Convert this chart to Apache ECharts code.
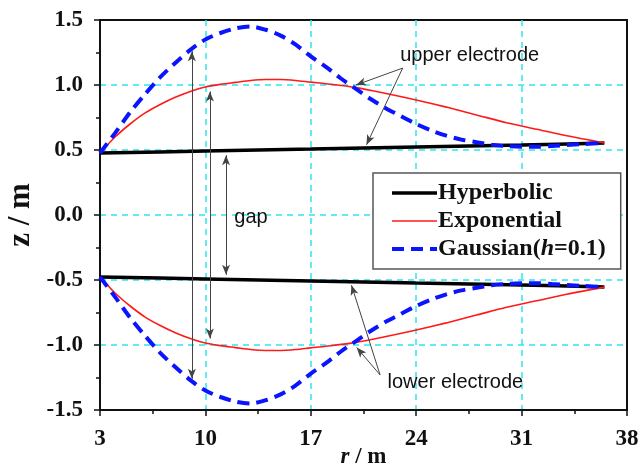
<!DOCTYPE html>
<html>
<head>
<meta charset="utf-8">
<title>electrode profiles</title>
<style>
  html, body { margin: 0; padding: 0; background: #fff; }
</style>
</head>
<body>
<div id="main" style="width: 641px;height:468px;"></div>
<script src="https://cdn.jsdelivr.net/npm/echarts@6/dist/echarts.min.js"></script>
<script>
    // r (m) and z (m) of the upper electrode; lower electrode is the mirror image
    var R0 = 3;
    var xTicks = [3, 10, 17, 24, 31, 38];
    var yTicks = [-1.5, -1.0, -0.5, 0.0, 0.5, 1.0, 1.5];

    var hypR = [3, 10, 17, 24, 31, 36.5];
    var hypZ = [0.477, 0.492, 0.507, 0.523, 0.538, 0.554];

    var expR = [3, 4, 5, 6, 7, 8, 9, 10, 11, 12, 13, 14, 15, 16, 17, 18, 20, 22, 24, 26, 28, 30, 32, 34, 36.5];
    var expZ = [0.477, 0.6, 0.70, 0.785, 0.85, 0.905, 0.95, 0.985, 1.005, 1.02, 1.035, 1.042, 1.042, 1.035, 1.022, 1.01, 0.98, 0.935, 0.885, 0.83, 0.77, 0.71, 0.66, 0.61, 0.555];

    var gauR = [3, 4, 5, 6, 7, 8, 9, 10, 11, 12, 13, 14, 15, 16, 17, 18, 19, 20, 21, 22, 23, 24, 25, 26, 27, 28, 29, 30, 31, 32, 33, 34, 35, 36.5];
    var gauZ = [0.477, 0.63, 0.79, 0.93, 1.06, 1.17, 1.27, 1.35, 1.40, 1.435, 1.45, 1.425, 1.38, 1.31, 1.22, 1.14, 1.05, 0.97, 0.89, 0.82, 0.76, 0.70, 0.65, 0.61, 0.58, 0.56, 0.54, 0.53, 0.525, 0.525, 0.53, 0.538, 0.545, 0.555];

    // annotations, in data units (r, z)
    var gapArrows = [[9.1, 1.26, -1.26], [10.3, 0.95, -0.95], [11.37, 0.46, -0.46]];
    var pointers = [
        [[23.1, 1.13], [20.0, 1.0]],
        [[23.1, 1.13], [20.7, 0.54]],
        [[21.6, -1.23], [20.05, -1.02]],
        [[21.6, -1.23], [19.7, -0.54]]
    ];
    var notes = [['upper electrode', 27.55, 1.23], ['lower electrode', 26.6, -1.29], ['gap', 13.03, -0.02]];

    function pts(rs, zs, sign) {
        return rs.map(function (r, i) { return [r - R0, sign * zs[i]]; });
    }

    var serif = '"Liberation Serif", "Times New Roman", serif';
    var sans = '"Liberation Sans", Arial, sans-serif';

    var markLineData = [];
    gapArrows.forEach(function (a) {
        markLineData.push([{ coord: [a[0] - R0, a[1]] }, { coord: [a[0] - R0, a[2]] }]);
    });
    pointers.forEach(function (p) {
        markLineData.push([{ coord: [p[0][0] - R0, p[0][1]], symbol: 'none' }, { coord: [p[1][0] - R0, p[1][1]], symbol: 'arrow' }]);
    });

    var markPointData = notes.map(function (n) {
        return { coord: [n[1] - R0, n[2]], value: n[0] };
    });

    var myChart = echarts.init(document.getElementById('main'));

    function curve(name, rs, zs, sign, lineStyle, z) {
        return {
            name: name,
            type: 'line',
            data: pts(rs, zs, sign),
            showSymbol: false,
            symbol: 'none',
            smooth: 0.3,
            z: z,
            lineStyle: lineStyle,
            itemStyle: { color: lineStyle.color },
            silent: true
        };
    }

    var hypStyle = { color: '#000', width: 3.5 };
    var expStyle = { color: '#ff1a1a', width: 1.6 };
    var gauStyle = { color: '#0a14ff', width: 4, type: [12, 7] };

    var series = [
        curve('Hyperbolic', hypR, hypZ, 1, hypStyle, 3),
        curve('Hyperbolic', hypR, hypZ, -1, hypStyle, 3),
        curve('Exponential', expR, expZ, 1, expStyle, 4),
        curve('Exponential', expR, expZ, -1, expStyle, 4),
        curve('Gaussian(h=0.1)', gauR, gauZ, 1, gauStyle, 5),
        curve('Gaussian(h=0.1)', gauR, gauZ, -1, gauStyle, 5)
    ];

    series[0].markLine = {
        silent: true,
        animation: false,
        symbol: ['arrow', 'arrow'],
        symbolSize: [6, 10],
        label: { show: false },
        lineStyle: { color: '#444', width: 1, type: 'solid' },
        emphasis: { disabled: true },
        data: markLineData
    };
    series[0].markPoint = {
        silent: true,
        animation: false,
        symbol: 'circle',
        symbolSize: 1,
        itemStyle: { color: 'rgba(0,0,0,0)' },
        label: {
            show: true,
            position: 'inside',
            formatter: '{c}',
            color: '#111',
            fontFamily: sans,
            fontSize: 20
        },
        data: markPointData
    };

    var gridLine = { show: true, showMinLine: false, showMaxLine: false, lineStyle: { color: '#2ee6f0', width: 1.5, type: [6, 5] } };

    option = {
        animation: false,
        backgroundColor: '#fff',
        grid: {
            left: 100, right: 14, top: 20, bottom: 58,
            containLabel: false,
            outerBoundsMode: 'none',
            show: true,
            borderColor: '#111',
            borderWidth: 2
        },
        legend: {
            data: [
                { name: 'Hyperbolic', lineStyle: { width: 3.5 } },
                { name: 'Exponential', lineStyle: { width: 1.6 } },
                { name: 'Gaussian(h=0.1)', lineStyle: { width: 4 } }
            ],
            orient: 'vertical',
            left: 373,
            top: 173,
            padding: [8, 15, 8, 17],
            itemGap: 4,
            itemWidth: 45,
            itemHeight: 14,
            backgroundColor: '#fff',
            borderColor: '#555',
            borderWidth: 1.5,
            borderRadius: 0,
            selectedMode: false,
            itemStyle: { opacity: 0 },
            formatter: function (name) {
                return name === 'Gaussian(h=0.1)' ? 'Gaussian({i|h}=0.1)' : name;
            },
            textStyle: {
                fontFamily: serif,
                fontWeight: 'bold',
                fontSize: 24,
                color: '#111',
                padding: [0, 0, 0, -4],
                rich: {
                    i: { fontStyle: 'italic', fontWeight: 'bold', fontFamily: serif, fontSize: 24, color: '#111' }
                }
            }
        },
        xAxis: {
            type: 'value',
            min: 0,
            max: 35,
            interval: 7,
            name: '{i|r} / m',
            nameLocation: 'middle',
            nameGap: 36,
            nameMoveOverlap: false,
            nameTextStyle: {
                fontFamily: serif, fontWeight: 'bold', fontSize: 23, color: '#111',
                rich: { i: { fontStyle: 'italic', fontWeight: 'bold', fontFamily: serif, fontSize: 23, color: '#111' } }
            },
            axisLine: { onZero: false, lineStyle: { color: '#111', width: 2 } },
            axisTick: { length: 6, lineStyle: { color: '#111', width: 1.5 } },
            minorTick: { show: true, splitNumber: 2, length: 4, lineStyle: { color: '#111', width: 1.5 } },
            axisLabel: {
                margin: 18,
                fontFamily: serif, fontWeight: 'bold', fontSize: 23, color: '#111',
                formatter: function (v) {
                    var t = Math.round(v + R0);
                    return xTicks.indexOf(t) >= 0 ? String(t) : '';
                }
            },
            splitLine: gridLine
        },
        yAxis: {
            type: 'value',
            min: -1.5,
            max: 1.5,
            interval: 0.5,
            name: 'z / m',
            nameLocation: 'middle',
            nameGap: 64,
            nameMoveOverlap: false,
            nameTextStyle: { fontFamily: serif, fontWeight: 'bold', fontSize: 31, color: '#111' },
            axisLine: { onZero: false, lineStyle: { color: '#111', width: 2 } },
            axisTick: { length: 6, lineStyle: { color: '#111', width: 1.5 } },
            minorTick: { show: true, splitNumber: 2, length: 4, lineStyle: { color: '#111', width: 1.5 } },
            axisLabel: {
                margin: 17,
                fontFamily: serif, fontWeight: 'bold', fontSize: 23, color: '#111',
                formatter: function (v) {
                    var s = v.toFixed(1);
                    return yTicks.indexOf(Number(s)) >= 0 ? s : '';
                }
            },
            splitLine: gridLine
        },
        series: series
    };
    myChart.setOption(option);
</script>
</body>
</html>
